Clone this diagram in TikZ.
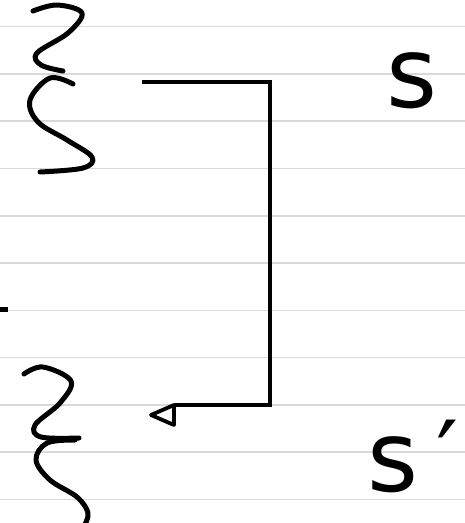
\documentclass[tikz,border=0pt]{standalone}
\usepackage{fontspec}
\newfontfamily\handfont{DejaVu Sans}
\usepackage{tikz}
\usetikzlibrary{positioning, calc}

\begin{document}
\begin{tikzpicture}[
    x=1pt, y=-1pt,
    rule/.style={draw=black!15, line width=1.6pt},
    ink/.style={draw=black, line width=5pt, line cap=round, line join=round},
    link/.style={draw=black, line width=3.8pt, line join=miter},
    letter/.style={inner sep=0pt, font=\handfont\fontsize{98}{98}\selectfont}
]
    \useasboundingbox[fill=white] (0,0) rectangle (465,523);

    % Ruled lines
    \foreach \k in {0,...,10}
        \draw[rule] (0,{26.5+47.3*\k}) -- (465,{26.5+47.3*\k});

    % Squiggles
    \draw[ink] plot[smooth, tension=0.6] coordinates {(33,11) (57,5) (82,13) (68,33) (37,53) (41,65) (63,71)};
    \draw[ink] plot[smooth, tension=0.6] coordinates {(73,84) (50,78) (30,100) (38,122) (67,140) (92,157) (83,168) (40,172)};
    \draw[ink] plot[smooth, tension=0.6] coordinates {(24,374) (43,367) (71,381) (60,403) (35,425) (41,437) (79,438)};
    \draw[ink] plot[smooth, tension=0.6] coordinates {(75,440) (47,443) (36,460) (50,480) (77,497) (88,513) (84,526)};
    \draw[ink, line cap=butt] (0,309) -- (8,309);

    % Nodes
    \node (s) [letter, anchor=base west] at (386,107) {s};
    \node (sprime) [letter, anchor=base west] at (367,491) {s\kern18pt′};

    % Flow
    \coordinate (src) at (142,82);
    \coordinate (bend) at (270,82);
    \coordinate (dst) at (174,405);
    \draw[link] (src) -- (bend) |- (dst);
    \draw[link, line join=round] (dst) -- ++(0,20) -- ++(-23,-10) -- cycle;

\end{tikzpicture}
\end{document}
